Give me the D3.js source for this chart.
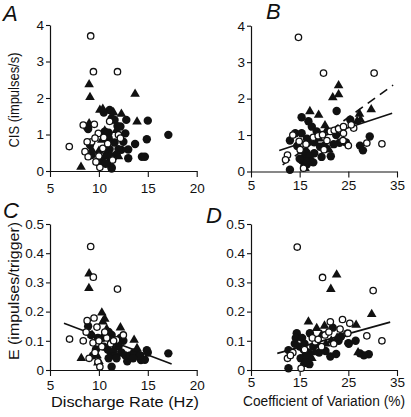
<!DOCTYPE html>
<html><head><meta charset="utf-8">
<script src="https://cdn.jsdelivr.net/npm/d3@7"></script>
<style>body{margin:0;background:#fff}svg{display:block}text{font-family:"Liberation Sans",Arial,sans-serif;fill:#111}</style>
</head><body><svg id="c" width="411" height="417"></svg>
<script>
// Panel A: Discharge rate (Hz) vs CIS (impulses/s)
const aOpen=[[9.16,3.70],[9.44,2.72],[11.9,2.72],[6.97,0.67],[8.4,1.26],[9.53,1.28],[9.94,1.03],[9.26,0.80],[9.6,0.9],[8.58,0.53],[8.9,0.39],[10.0,0.41],[10.1,0.10],[12.0,0.99],[11.1,1.36],[8.8,0.8],[10.5,0.92],[10.4,0.62],[10.9,0.75],[11.4,0.3],[9.7,0.25],[12.2,0.9]];
const aTri=[[9.0,2.37],[9.09,2.02],[13.7,2.11],[10.1,1.67],[10.4,1.7],[12.3,1.56],[13.9,1.35],[8.17,0.11],[10.3,0.85],[9.26,0.58],[10.8,0.58],[9.0,1.3],[10.6,1.1],[11.5,1.6],[11.2,0.45],[10.0,0.55],[12.0,0.4],[11.8,1.12]];
const aFilled=[[8.75,1.21],[8.9,1.15],[10.6,1.08],[9.09,0.71],[9.26,0.44],[10.3,0.33],[10.8,0.44],[11.3,0.07],[11.1,0.25],[11.3,1.44],[11.1,1.67],[15.0,1.38],[12.8,1.40],[11.6,1.40],[11.9,1.23],[17.1,0.99],[14.9,0.87],[12.7,1.03],[11.0,1.05],[13.7,0.74],[12.5,0.80],[11.6,0.78],[12.3,0.58],[13.0,0.59],[11.1,0.6],[11.5,0.39],[13.0,0.35],[14.4,0.39],[14.7,0.39],[11.8,0.45],[11.3,0.10],[10.5,1.6],[12.0,0.6],[10.0,0.22],[11.0,0.9],[12.2,1.22],[10.7,0.2]];
// Panel B: Coefficient of variation (%) vs CIS
const bOpen=[[14.75,3.68],[19.9,2.70],[30.3,2.70],[31.9,0.76],[28.8,0.78],[25.0,0.71],[26.1,1.19],[12.5,0.45],[12.1,0.32],[13.6,1.0],[14.9,0.83],[15.8,0.09],[17.8,0.94],[18.8,0.98],[19.7,1.01],[21.3,1.1],[22.1,1.13],[23.0,1.17],[24.0,1.23],[25.6,1.28],[24.0,1.05],[23.9,0.85],[20.6,0.85],[15.1,0.6],[16.3,0.75],[20.0,0.6]];
const bTri=[[23.0,2.36],[23.0,2.11],[21.8,2.03],[17.1,1.65],[18.9,1.55],[29.7,1.70],[27.3,1.58],[26.8,1.38],[27.5,1.42],[20.2,1.26],[20.5,1.12],[16.1,0.09],[17.5,0.8],[19.0,0.9],[15.5,0.55],[16.5,0.3],[21.0,0.6],[17.0,0.45]];
const bFilled=[[22.6,1.66],[15.4,1.49],[16.8,1.38],[17.5,1.23],[13.0,0.85],[14.1,1.05],[15.4,1.05],[29.4,0.96],[27.4,0.71],[28.0,0.58],[21.4,0.42],[13.0,0.05],[25.4,1.42],[23.2,0.79],[19.2,0.68],[15.5,0.3],[16.0,0.4],[16.5,0.2],[17.2,0.3],[18.0,0.5],[15.0,0.35],[16.2,0.55],[17.8,0.25],[19.5,0.4],[22.0,0.75],[20.0,0.7],[16.5,0.9],[18.5,1.1],[14.5,0.7],[24.5,0.8],[16.0,0.15],[22.5,1.0],[18.0,0.8]];
const bSolidFit=[[10.8,0.575],[34.0,1.60]];
const bDashedFit=[[11.5,0.18],[34.2,2.37]];
// Panel C: Discharge rate (Hz) vs E (impulses/trigger)
const cOpen=[[9.16,0.423],[9.43,0.318],[11.9,0.277],[7.0,0.106],[8.4,0.100],[8.8,0.169],[9.5,0.178],[9.8,0.147],[9.4,0.093],[9.0,0.04],[9.9,0.028],[10.1,0.011],[11.8,0.103],[12.5,0.12],[10.3,0.08],[10.8,0.11],[11.2,0.09],[9.6,0.06],[10.6,0.13],[11.5,0.1],[8.7,0.13],[10.0,0.1]];
const cTri=[[9.0,0.33],[8.98,0.28],[10.3,0.196],[10.6,0.175],[10.4,0.165],[12.2,0.145],[13.6,0.103],[13.9,0.074],[8.2,0.04],[9.8,0.05],[10.0,0.03],[9.3,0.12],[11.0,0.12],[11.5,0.07],[12.0,0.09],[10.8,0.14],[9.9,0.025]];
const cFilled=[[17.1,0.057],[14.9,0.068],[14.3,0.034],[14.7,0.035],[12.9,0.03],[11.3,0.011],[8.9,0.15],[9.2,0.12],[9.9,0.11],[10.4,0.11],[10.7,0.12],[11.0,0.13],[11.3,0.12],[11.6,0.1],[12.0,0.08],[11.2,0.06],[11.6,0.05],[12.3,0.06],[12.7,0.05],[13.2,0.05],[13.6,0.06],[14.2,0.05],[11.8,0.04],[10.9,0.07],[10.5,0.08],[12.5,0.1],[9.7,0.07],[9.4,0.05],[15.0,0.06],[13.5,0.04],[11.0,0.04],[12.2,0.11]];
const cFit=[[6.43,0.160],[17.44,0.0206]];
// Panel D: Coefficient of variation (%) vs E
const dOpen=[[14.5,0.421],[19.7,0.317],[30.1,0.272],[31.9,0.10],[28.8,0.117],[21.3,0.165],[23.8,0.173],[25.3,0.16],[20.2,0.12],[23.3,0.14],[24.7,0.125],[18.2,0.097],[17.6,0.11],[13.6,0.06],[12.5,0.04],[13.1,0.05],[15.3,0.006],[19.5,0.08],[22.0,0.09],[24.9,0.126],[16.0,0.07],[21.0,0.13],[18.8,0.105]];
const dTri=[[22.6,0.326],[21.4,0.277],[29.8,0.191],[26.6,0.154],[16.8,0.165],[18.5,0.143],[20.1,0.151],[22.7,0.11],[20.4,0.09],[27.0,0.06],[16.0,0.03],[16.5,0.05],[17.5,0.04],[15.8,0.02],[18.0,0.06],[19.5,0.12],[21.5,0.1]];
const dFilled=[[29.2,0.054],[27.4,0.057],[28.2,0.05],[25.0,0.092],[21.3,0.046],[17.1,0.126],[14.4,0.126],[14.2,0.11],[21.8,0.145],[15.5,0.11],[23.5,0.115],[25.1,0.09],[12.7,0.068],[19.0,0.06],[20.3,0.065],[22.5,0.055],[12.7,0.006],[15.0,0.08],[15.8,0.07],[16.2,0.05],[16.5,0.035],[17.0,0.02],[15.2,0.04],[16.8,0.06],[18.5,0.09],[14.0,0.09],[17.8,0.08],[26.5,0.1],[23.0,0.1],[16.0,0.09],[16.3,0.03]];
const dFit=[[10.4,0.057],[33.6,0.164]];

const rateTicks=[5,10,15,20], cvTicks=[5,15,25,35];
const cisTicks=[0,1,2,3,4], eTicks=[0,0.1,0.2,0.3,0.4,0.5];
const eTickLabels=["0","0.1","0.2","0.3","0.4","0.5"];

const svg=d3.select("#c");
const ink="#111";

function panel(o){
  const g=svg.append("g");
  const x=d3.scaleLinear().domain(o.xd).range(o.xr);
  const y=d3.scaleLinear().domain(o.yd).range(o.yr);
  const xa=g.append("g").attr("transform",`translate(0,${o.yr[0]})`)
    .call(d3.axisBottom(x).tickValues(o.xt).tickSize(6).tickPadding(o.xpad).tickSizeOuter(0));
  const ya=g.append("g").attr("transform",`translate(${o.xr[0]},0)`)
    .call(d3.axisLeft(y).tickValues(o.yt).tickSize(4).tickPadding(2).tickSizeOuter(0)
      .tickFormat((d,i)=>o.ytl?o.ytl[i]:d));
  [xa,ya].forEach(a=>{a.select(".domain").attr("stroke",ink).attr("stroke-width",1.2);
    a.selectAll(".tick line").attr("stroke",ink).attr("stroke-width",1.1);
    a.selectAll(".tick text").attr("font-size",13.5).attr("fill",ink).style("font-family","Liberation Sans, Arial, sans-serif");});
  const line=d3.line().x(d=>x(d[0])).y(d=>y(d[1]));
  (o.fits||[]).forEach(f=>g.append("path").attr("d",line(f.d)).attr("fill","none")
    .attr("stroke",ink).attr("stroke-width",1.6).attr("stroke-dasharray",f.dash||null));
  g.selectAll(".f").data(o.filled).join("circle").attr("cx",d=>x(d[0])).attr("cy",d=>y(d[1]))
    .attr("r",4.2).attr("fill",ink);
  const tri=d3.symbol().type(d3.symbolTriangle).size(40);
  g.selectAll(".t").data(o.tri).join("path").attr("d",tri)
    .attr("transform",d=>`translate(${x(d[0])},${y(d[1])})`).attr("fill",ink);
  g.selectAll(".o").data(o.open).join("circle").attr("cx",d=>x(d[0])).attr("cy",d=>y(d[1]))
    .attr("r",3.2).attr("fill","#fff").attr("stroke",ink).attr("stroke-width",1.3);
  g.append("text").attr("x",o.lx).attr("y",o.ly).attr("font-size",22).attr("font-style","italic").text(o.letter);
}

panel({letter:"A",lx:3,ly:21,xd:[5,20],xr:[50,196.7],yd:[0,4],yr:[171,25],xt:rateTicks,yt:cisTicks,xpad:6,
  open:aOpen,tri:aTri,filled:aFilled});
panel({letter:"B",lx:266,ly:19,xd:[5,35],xr:[251,397],yd:[0,4],yr:[171.5,25.7],xt:cvTicks,yt:cisTicks,xpad:3,
  open:bOpen,tri:bTri,filled:bFilled,fits:[{d:bSolidFit},{d:bDashedFit,dash:"9,6"}]});
panel({letter:"C",lx:3,ly:218,xd:[5,20],xr:[50,196.7],yd:[0,0.5],yr:[370,224],xt:rateTicks,yt:eTicks,ytl:eTickLabels,xpad:4,
  open:cOpen,tri:cTri,filled:cFilled,fits:[{d:cFit}]});
panel({letter:"D",lx:206,ly:223,xd:[5,35],xr:[251,397],yd:[0,0.5],yr:[370,224],xt:cvTicks,yt:eTicks,ytl:eTickLabels,xpad:1,
  open:dOpen,tri:dTri,filled:dFilled,fits:[{d:dFit}]});

svg.append("text").attr("transform","translate(19,100) rotate(-90)").attr("text-anchor","middle").attr("font-size",15)
  .attr("textLength",95).attr("lengthAdjust","spacingAndGlyphs").text("CIS (impulses/s)");
svg.append("text").attr("transform","translate(19,291) rotate(-90)").attr("text-anchor","middle").attr("font-size",15)
  .attr("textLength",138).attr("lengthAdjust","spacingAndGlyphs").text("E (impulses/trigger)");
svg.append("text").attr("x",125).attr("y",407).attr("text-anchor","middle").attr("font-size",14.5)
  .attr("textLength",148).attr("lengthAdjust","spacingAndGlyphs").text("Discharge Rate (Hz)");
svg.append("text").attr("x",324).attr("y",406).attr("text-anchor","middle").attr("font-size",14)
  .attr("textLength",162).attr("lengthAdjust","spacingAndGlyphs").text("Coefficient of Variation (%)");
</script></body></html>
